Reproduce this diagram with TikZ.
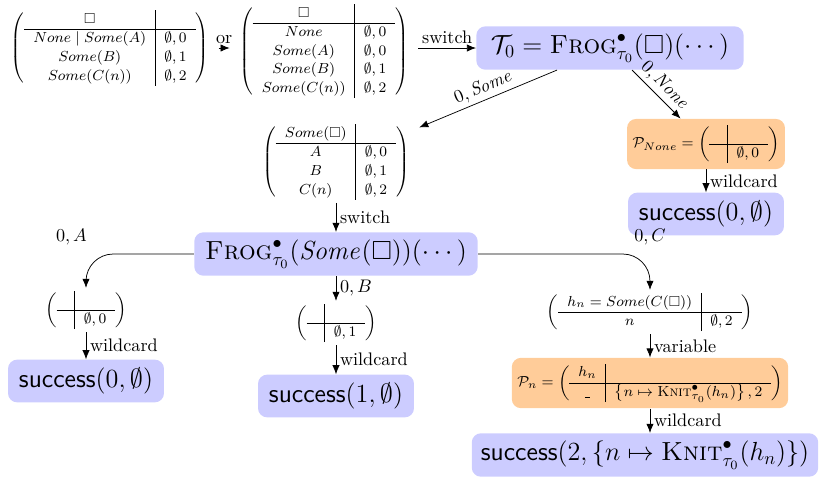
\documentclass[tikz,border=0pt]{standalone}
\usepackage{amsmath,amssymb}
\usepackage{tikz}
\usetikzlibrary{arrows.meta,positioning}
\definecolor{frog-blue}{HTML}{CCCCFF}
\definecolor{frog-orange}{HTML}{FFCC99}
\renewcommand{\arraystretch}{1.08}

\begin{document}
\begin{tikzpicture}[
  x=0.55pt, y=-0.55pt,
  res/.style={rectangle, fill=frog-blue, rounded corners=5pt,
              inner xsep=6pt, inner ysep=4pt, minimum height=23.5pt, font=\Large},
  pat/.style={rectangle, fill=frog-orange, rounded corners=5pt,
              inner xsep=3pt, minimum height=27pt, font=\footnotesize},
  mat/.style={inner xsep=5pt, inner ysep=1.5pt, font=\footnotesize},
  arr/.style={-{Latex[length=5pt,width=4pt]}},
  branch/.style={arr, rounded corners=15pt},
  lbl/.style={inner sep=2pt}
]
  \useasboundingbox (0,0) rectangle (825,479);

  % top row
  \node[mat] (m1) at (110,48) {$\left(\begin{array}{c|l}
      \square & \\ \hline
      None \mid Some(A) & \emptyset,0 \\
      Some(B) & \emptyset,1 \\
      Some(C(n)) & \emptyset,2
    \end{array}\right)$};
  \node[mat] (m2) at (324,51) {$\left(\begin{array}{c|l}
      \square & \\ \hline
      None & \emptyset,0 \\
      Some(A) & \emptyset,0 \\
      Some(B) & \emptyset,1 \\
      Some(C(n)) & \emptyset,2
    \end{array}\right)$};
  \node[res, inner xsep=8pt] (t0) at (610,48)
    {$\mathcal{T}_0 = \textsc{Frog}^{\bullet}_{\tau_0}(\square)(\cdots)$};

  % None branch
  \node[pat] (pnone) at (706,144) {$\mathcal{P}_{None} = \left(\begin{array}{c|c}
      & \\ \hline & \emptyset,0
    \end{array}\right)$};
  \node[res] (okn) at (706,214) {$\textsf{success}(0,\emptyset)$};

  % Some branch
  \node[mat] (m3) at (336,162) {$\left(\begin{array}{c|l}
      Some(\square) & \\ \hline
      A & \emptyset,0 \\
      B & \emptyset,1 \\
      C(n) & \emptyset,2
    \end{array}\right)$};
  \node[res] (frog) at (336,254)
    {$\textsc{Frog}^{\bullet}_{\tau_0}(\mathit{Some}(\square))(\cdots)$};

  % A, B, C
  \node[mat] (ma) at (86,310) {$\left(\begin{array}{c|c}
      & \\ \hline & \emptyset,0
    \end{array}\right)$};
  \node[res] (oka) at (86,381) {$\textsf{success}(0,\emptyset)$};
  \node[mat] (mb) at (336,323) {$\left(\begin{array}{c|c}
      & \\ \hline & \emptyset,1
    \end{array}\right)$};
  \node[res] (okb) at (336,396) {$\textsf{success}(1,\emptyset)$};
  \node[mat] (mc) at (650,312) {$\left(\begin{array}{c|c}
      h_n = Some(C(\square)) & \\ \hline n & \emptyset,2
    \end{array}\right)$};
  \node[pat] (pn) at (650,383) {$\mathcal{P}_n = \left(\begin{array}{c|c}
      h_n & \\ \hline
      \rule[-1pt]{3pt}{0.6pt} & \left\{n \mapsto \textsc{Knit}^{\bullet}_{\tau_0}(h_n)\right\},2
    \end{array}\right)$};
  \node[res, inner xsep=5pt] (okc) at (645,455)
    {$\textsf{success}(2,\{n \mapsto \textsc{Knit}^{\bullet}_{\tau_0}(h_n)\})$};

  % steps
  \draw[arr] (m1) -- node[lbl, above] {or} (m1 -| m2.west);
  \draw[arr] (m2.east |- t0) -- node[lbl, above] {switch} (t0);
  \draw[arr] (t0) -- node[lbl, sloped, above] {$0, \mathit{Some}$} (m3);
  \draw[arr] (t0) -- node[lbl, sloped, above] {$0, \mathit{None}$} (pnone);
  \draw[arr] (pnone) -- node[lbl, right] {wildcard} (okn);
  \draw[arr] (m3) -- node[lbl, right] {switch} (frog);
  \draw[branch] (frog) -| node[lbl, above=3pt, xshift=-8pt] {$0, A$} (ma);
  \draw[arr] (frog) -- node[lbl, right] {$0, B$} (mb);
  \draw[branch] (frog) -| node[lbl, above=3pt] {$0, C$} (mc);
  \draw[arr] (ma) -- node[lbl, right] {wildcard} (oka);
  \draw[arr] (mb) -- node[lbl, right] {wildcard} (okb);
  \draw[arr] (mc) -- node[lbl, right] {variable} (pn);
  \draw[arr] (pn) -- node[lbl, right] {wildcard} (pn |- okc.north);
\end{tikzpicture}
\end{document}
